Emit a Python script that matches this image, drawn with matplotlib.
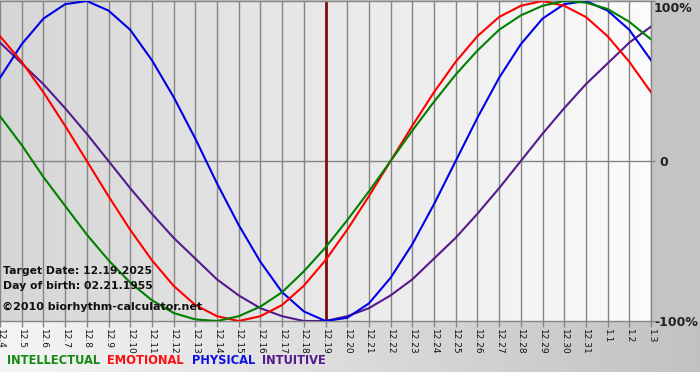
import numpy as np
import matplotlib
matplotlib.use("Agg")
import matplotlib.pyplot as plt

# ---- data (one per day) ----
dates = ["12.4", "12.5", "12.6", "12.7", "12.8", "12.9", "12.10", "12.11", "12.12",
         "12.13", "12.14", "12.15", "12.16", "12.17", "12.18", "12.19", "12.20",
         "12.21", "12.22", "12.23", "12.24", "12.25", "12.26", "12.27", "12.28",
         "12.29", "12.30", "12.31", "1.1", "1.2", "1.3"]
target_index = 15

physical = [0.52, 0.73, 0.89, 0.98, 1.00, 0.94, 0.82, 0.63, 0.40, 0.14, -0.14,
            -0.40, -0.63, -0.82, -0.94, -1.00, -0.98, -0.89, -0.73, -0.52, -0.27,
            0.00, 0.27, 0.52, 0.73, 0.89, 0.98, 1.00, 0.94, 0.82, 0.63]
emotional = [0.78, 0.62, 0.43, 0.22, 0.00, -0.22, -0.43, -0.62, -0.78, -0.90, -0.97,
             -1.00, -0.97, -0.90, -0.78, -0.62, -0.43, -0.22, 0.00, 0.22, 0.43,
             0.62, 0.78, 0.90, 0.97, 1.00, 0.97, 0.90, 0.78, 0.62, 0.43]
intellectual = [0.28, 0.10, -0.10, -0.28, -0.46, -0.62, -0.76, -0.87, -0.95, -0.99,
                -1.00, -0.97, -0.91, -0.82, -0.69, -0.54, -0.37, -0.19, 0.00, 0.19,
                0.37, 0.54, 0.69, 0.82, 0.91, 0.97, 1.00, 0.99, 0.95, 0.87, 0.76]
intuitive = [0.74, 0.61, 0.48, 0.33, 0.17, 0.00, -0.17, -0.33, -0.48, -0.61, -0.74,
             -0.84, -0.92, -0.97, -1.00, -1.00, -0.97, -0.92, -0.84, -0.74, -0.61,
             -0.48, -0.33, -0.17, 0.00, 0.17, 0.33, 0.48, 0.61, 0.74, 0.84]

series_names = ["INTELLECTUAL", "EMOTIONAL", "PHYSICAL", "INTUITIVE"]
series_colors = ["#008000", "#ff0000", "#0000e6", "#551a8b"]
legend_colors = ["#138a13", "#ff1010", "#1010e6", "#551a8b"]

W, H = 700, 380
fig = plt.figure(figsize=(W / 100, H / 100), dpi=100)

# ---- figure background ----
bg = fig.add_axes([0, 0, 1, 1], zorder=-10)
img = np.ones((H, W, 3))
img[:321, :, :] = 0.77
xs = np.linspace(0, 1, W)
grad = 0.96 - (0.96 - 0.76) * xs
img[321:372, :, :] = grad[None, :, None]
bg.imshow(img, extent=[0, W, H, 0], aspect="auto", interpolation="bilinear")
bg.set_xlim(0, W)
bg.set_ylim(H, 0)
bg.axis("off")

# ---- main plot ----
ax = fig.add_axes([0, 59 / H, 651 / W, 320 / H])
ax.patch.set_alpha(0)
n = len(dates)
x = np.arange(n)
ax.set_xlim(0, n - 1)
ax.set_ylim(-1, 1)
pg = np.linspace(0.84, 0.985, 200)[None, :]
ax.imshow(np.dstack([pg, pg, pg]), extent=[0, n - 1, -1, 1], aspect="auto",
          zorder=0, interpolation="bilinear")

for xi in x:
    ax.axvline(xi, color="#858585", lw=1.0, zorder=1)
ax.axhline(0, color="#858585", lw=1.0, zorder=1)
ax.axvline(target_index, color="#7a1010", lw=2.0, zorder=2)

for vals, c in zip([intuitive, physical, emotional, intellectual],
                   [series_colors[3], series_colors[2], series_colors[1], series_colors[0]]):
    ax.plot(x, vals, color=c, lw=1.5, zorder=3, solid_joinstyle="round")

for s in ax.spines.values():
    s.set_color("#858585")
    s.set_linewidth(1.0)
ax.spines["left"].set_visible(False)

ax.set_xticks(x)
ax.set_xticklabels(dates, rotation=270, fontsize=6.5, color="#111111",
                   va="top", ha="center")
ax.tick_params(axis="x", length=4.5, width=1, color="#858585", pad=1.5)
ax.yaxis.tick_right()
ax.set_yticks([-1, 0, 1])
ax.set_yticklabels([])
ax.tick_params(axis="y", length=3, width=1, color="#858585")

# ---- right value labels ----
fig.text(654 / W, 1 - 8 / H, "100%", fontsize=9, fontweight="bold",
         color="#222222", va="center", ha="left")
fig.text(659 / W, 1 - 162 / H, "0", fontsize=9, fontweight="bold",
         color="#222222", va="center", ha="left")
fig.text(654 / W, 1 - 322 / H, "-100%", fontsize=9, fontweight="bold",
         color="#222222", va="center", ha="left")

# ---- info text ----
fig.text(3 / W, 1 - 271 / H, "Target Date: 12.19.2025", fontsize=7.8,
         fontweight="bold", color="#111111", va="center", ha="left", zorder=5)
fig.text(3 / W, 1 - 286 / H, "Day of birth: 02.21.1955", fontsize=7.8,
         fontweight="bold", color="#111111", va="center", ha="left", zorder=5)
fig.text(2 / W, 1 - 307 / H, "\u00a92010 biorhythm-calculator.net", fontsize=8.0,
         fontweight="bold", color="#111111", va="center", ha="left", zorder=5)

# ---- legend words ----
lx = [7, 107, 192, 262]
for name, c, px in zip(series_names, legend_colors, lx):
    fig.text(px / W, 1 - 361 / H, name, fontsize=8.3, fontweight="bold",
             color=c, va="center", ha="left")

fig.savefig("out.png", dpi=100)
